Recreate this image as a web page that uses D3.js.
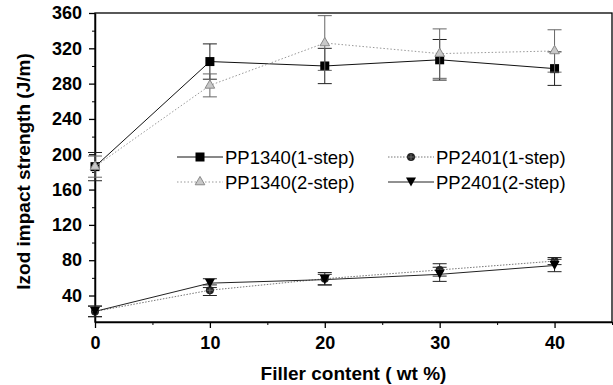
<!DOCTYPE html>
<html lang="en">
<head>
<meta charset="UTF-8">
<title>Izod impact strength</title>
<script src="https://d3js.org/d3.v7.min.js"></script>
<style>
  body, html { margin: 0; padding: 0; background: #fff; }
  svg text { font-family: "Liberation Sans", Arial, sans-serif; fill: #000; }
  .tick-label { font-weight: bold; font-size: 18px; }
  .axis-title { font-weight: bold; font-size: 19px; }
  .legend text { font-size: 18.5px; }
</style>
</head>
<body>
<div id="chart"></div>
<script>
  // data
  const filler = [0, 10, 20, 30, 40];
  const pp1340one = [186, 305, 300, 307, 297];
  const pp1340oneErr = [16, 20, 20, 23, 19];
  const pp1340two = [186, 278, 326, 314, 317];
  const pp1340twoErr = [12, 13, 31, 28, 24];
  const pp2401one = [22, 46, 59, 69, 79];
  const pp2401oneErr = [6, 6, 7, 7, 4];
  const pp2401two = [22, 54, 58, 64, 74];
  const pp2401twoErr = [6, 5, 6, 8, 7];
  const xTicks = [0, 10, 20, 30, 40];
  const yTicks = [40, 80, 120, 160, 200, 240, 280, 320, 360];

  const series = [
    { name: "PP1340(1-step)", values: pp1340one, err: pp1340oneErr, marker: "square", line: "#111", dash: null, mcolor: "#000" },
    { name: "PP1340(2-step)", values: pp1340two, err: pp1340twoErr, marker: "triangle", line: "#999", dash: "1.5,2", mcolor: "#aaa" },
    { name: "PP2401(1-step)", values: pp2401one, err: pp2401oneErr, marker: "circle", line: "#777", dash: "1.5,1.5", mcolor: "#222" },
    { name: "PP2401(2-step)", values: pp2401two, err: pp2401twoErr, marker: "down", line: "#222", dash: null, mcolor: "#000" }
  ];

  const width = 613, height = 385;
  const margin = { top: 13, right: 1, bottom: 63, left: 95 };

  const svg = d3.select("#chart").append("svg")
    .attr("width", width)
    .attr("height", height);

  const x = d3.scaleLinear().domain([0, 45]).range([margin.left, width - margin.right]);
  const y = d3.scaleLinear().domain([10, 360]).range([height - margin.bottom, margin.top]);

  // frame
  svg.append("rect")
    .attr("x", x(0)).attr("y", y(360))
    .attr("width", x(45) - x(0)).attr("height", y(10) - y(360))
    .attr("fill", "none").attr("stroke", "#000").attr("stroke-width", 1.3);

  // x axis
  const xAxis = svg.append("g")
    .attr("transform", `translate(0,${y(10)})`)
    .call(d3.axisBottom(x).tickValues(xTicks).tickSize(6).tickSizeOuter(0).tickPadding(8));
  xAxis.select(".domain").attr("stroke-width", 1.5);
  xAxis.selectAll(".tick line").attr("stroke-width", 1.3);
  xAxis.selectAll(".tick text").attr("class", "tick-label");
  svg.append("g")
    .attr("transform", `translate(0,${y(10)})`)
    .call(d3.axisBottom(x).tickValues([5, 15, 25, 35, 45]).tickSize(3).tickFormat(""))
    .call(g => g.select(".domain").remove());

  // y axis
  const yAxis = svg.append("g")
    .attr("transform", `translate(${x(0)},0)`)
    .call(d3.axisLeft(y).tickValues(yTicks).tickSize(6).tickSizeOuter(0).tickPadding(7));
  yAxis.select(".domain").attr("stroke-width", 1.5);
  yAxis.selectAll(".tick line").attr("stroke-width", 1.3);
  yAxis.selectAll(".tick text").attr("class", "tick-label");
  svg.append("g")
    .attr("transform", `translate(${x(0)},0)`)
    .call(d3.axisLeft(y).tickValues(d3.range(20, 360, 40)).tickSize(3).tickFormat(""))
    .call(g => g.select(".domain").remove());

  // axis titles
  svg.append("text")
    .attr("class", "axis-title")
    .attr("x", (x(0) + x(45)) / 2)
    .attr("y", 380)
    .attr("text-anchor", "middle")
    .text("Filler content ( wt %)");
  svg.append("text")
    .attr("class", "axis-title")
    .attr("transform", `translate(30,${(y(10) + y(360)) / 2 + 4}) rotate(-90)`)
    .attr("text-anchor", "middle")
    .text("Izod impact strength  (J/m)");

  function drawMarker(g, type, color) {
    if (type === "square") {
      g.append("rect").attr("x", -4.5).attr("y", -4.5).attr("width", 9).attr("height", 9).attr("fill", color);
    } else if (type === "triangle") {
      g.append("path").attr("d", d3.symbol(d3.symbolTriangle, 40)()).attr("fill", "#c8c8c8").attr("stroke", "#888").attr("stroke-width", 1);
    } else if (type === "circle") {
      g.append("circle").attr("r", 4).attr("fill", color);
      g.append("path").attr("d", "M-3,0H3M0,-3V3").attr("stroke", "#777").attr("stroke-width", 0.8);
    } else {
      g.append("path").attr("d", "M-5,-4.5L5,-4.5L0,4.5Z").attr("fill", color);
    }
  }

  const line = d3.line().x((d, i) => x(filler[i])).y(d => y(d));

  series.forEach(s => {
    const g = svg.append("g");
    g.append("path")
      .datum(s.values)
      .attr("d", line)
      .attr("fill", "none")
      .attr("stroke", s.line)
      .attr("stroke-width", 1)
      .attr("stroke-dasharray", s.dash);

    const eb = g.selectAll(".err").data(s.values).enter().append("g")
      .attr("stroke", s.marker === "triangle" ? "#666" : "#222")
      .attr("stroke-width", 1);
    eb.append("line")
      .attr("x1", (d, i) => x(filler[i])).attr("x2", (d, i) => x(filler[i]))
      .attr("y1", (d, i) => y(d + s.err[i])).attr("y2", (d, i) => y(d - s.err[i]));
    eb.append("line")
      .attr("x1", (d, i) => x(filler[i]) - 7).attr("x2", (d, i) => x(filler[i]) + 7)
      .attr("y1", (d, i) => y(d + s.err[i])).attr("y2", (d, i) => y(d + s.err[i]));
    eb.append("line")
      .attr("x1", (d, i) => x(filler[i]) - 7).attr("x2", (d, i) => x(filler[i]) + 7)
      .attr("y1", (d, i) => y(d - s.err[i])).attr("y2", (d, i) => y(d - s.err[i]));

    s.values.forEach((v, i) => {
      const m = g.append("g").attr("transform", `translate(${x(filler[i])},${y(v)})`);
      drawMarker(m, s.marker, s.mcolor);
    });
  });

  // legend
  const legendPos = [[177, 157], [177, 182], [388, 157], [388, 182]];
  const legend = svg.append("g").attr("class", "legend");
  series.forEach((s, j) => {
    const [lx, ly] = legendPos[j];
    const lg = legend.append("g").attr("transform", `translate(${lx},${ly})`);
    lg.append("line")
      .attr("x1", 0).attr("x2", 46).attr("y1", 0).attr("y2", 0)
      .attr("stroke", s.line).attr("stroke-width", 1)
      .attr("stroke-dasharray", s.dash);
    const m = lg.append("g").attr("transform", "translate(23,0)");
    drawMarker(m, s.marker, s.mcolor);
    lg.append("text")
      .attr("x", 48)
      .attr("y", 6.5)
      .text(s.name);
  });
</script>
</body>
</html>
